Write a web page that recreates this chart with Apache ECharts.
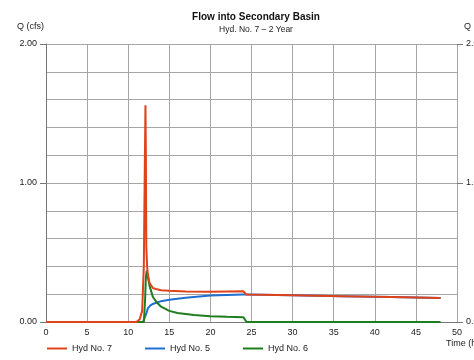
<!DOCTYPE html>
<html>
<head>
<meta charset="utf-8">
<script src="https://cdn.jsdelivr.net/npm/echarts@6/dist/echarts.min.js"></script>
<style>
  html, body { margin: 0; padding: 0; background: #fff; }
  #chart { width: 474px; height: 360px; }
</style>
</head>
<body>
<div id="chart"></div>
<script>
// Hydrograph ordinates: time in hours, flow in cfs
const hyd7Time = [0, 11.0, 11.4, 11.7, 11.9, 12.0, 12.1, 12.15, 12.2, 12.3, 12.4, 12.6, 13.0, 13.5, 14, 15, 17, 20, 22, 24, 24.2, 24.35, 30, 36, 42, 48];
const hyd7Q    = [0, 0.0, 0.02, 0.08, 0.4, 1.0, 1.56, 1.2, 0.55, 0.40, 0.34, 0.28, 0.245, 0.235, 0.228, 0.224, 0.22, 0.218, 0.22, 0.222, 0.222, 0.198, 0.193, 0.186, 0.179, 0.172];

const hyd5Time = [0, 11.8, 12.0, 12.2, 12.4, 12.7, 13.0, 14, 15, 17, 20, 22, 24, 24.2, 24.35, 30, 36, 42, 48];
const hyd5Q    = [0, 0.0, 0.01, 0.06, 0.10, 0.12, 0.13, 0.15, 0.16, 0.175, 0.19, 0.195, 0.198, 0.198, 0.198, 0.193, 0.186, 0.179, 0.172];

const hyd6Time = [0, 11.9, 12.05, 12.15, 12.25, 12.4, 12.6, 13.0, 13.5, 14, 15, 16, 18, 20, 22, 24, 24.2, 24.4, 48];
const hyd6Q    = [0, 0.0, 0.15, 0.32, 0.37, 0.32, 0.26, 0.18, 0.14, 0.11, 0.08, 0.065, 0.05, 0.042, 0.038, 0.035, 0.035, 0.0, 0.0];

const xTicks = { min: 0, max: 50, step: 5 };
const yTicks = { min: 0, max: 2, step: 1, minorSplits: 5 };

const pairs = (t, q) => t.map((v, i) => [v, q[i]]);

const gridGray = '#a6a6a6';
const textColor = '#222';
const fontFamily = '"Liberation Sans", Arial, sans-serif';

function yAxisDef(position) {
  return {
    type: 'value',
    position: position,
    min: yTicks.min, max: yTicks.max, interval: yTicks.step,
    axisLine: { show: position === 'left', lineStyle: { color: '#777', width: 1 } },
    axisTick: { show: true, length: 6, lineStyle: { color: '#777' } },
    axisLabel: {
      show: true, color: textColor, fontSize: 9, fontFamily: fontFamily, margin: 9,
      formatter: v => v.toFixed(2)
    },
    splitLine: { show: position === 'left', lineStyle: { color: gridGray, width: 1 } },
    minorTick: { show: false, splitNumber: yTicks.minorSplits },
    minorSplitLine: { show: position === 'left', lineStyle: { color: gridGray, width: 1 } }
  };
}

const chart = echarts.init(document.getElementById('chart'), null, { renderer: 'canvas' });

const seriesStyle = (color) => ({
  type: 'line',
  showSymbol: false,
  symbol: 'none',
  smooth: false,
  lineStyle: { color: color, width: 2 },
  itemStyle: { color: color },
  animation: false
});

const legendBase = {
  top: 344, padding: 0, itemWidth: 20, itemHeight: 2, icon: 'rect',
  textStyle: { color: textColor, fontSize: 9, fontFamily: fontFamily },
  selectedMode: false
};

chart.setOption({
  animation: false,
  backgroundColor: '#fff',
  title: {
    text: 'Flow into Secondary Basin',
    subtext: 'Hyd. No. 7 \u2013 2 Year',
    left: 251, top: 7, textAlign: 'center',
    itemGap: 3,
    textStyle: { fontSize: 10, fontWeight: 'bold', color: '#111', fontFamily: fontFamily },
    subtextStyle: { fontSize: 8.5, color: textColor, fontFamily: fontFamily }
  },
  grid: { left: 46, right: 17, top: 44, bottom: 38, containLabel: false, outerBoundsMode: 'none' },
  xAxis: {
    type: 'value',
    min: xTicks.min, max: xTicks.max, interval: xTicks.step,
    axisLine: { show: true, lineStyle: { color: '#777' } },
    axisTick: { show: false },
    axisLabel: { color: textColor, fontSize: 9, fontFamily: fontFamily, margin: 6 },
    splitLine: { show: true, lineStyle: { color: gridGray, width: 1 } }
  },
  yAxis: [yAxisDef('left'), yAxisDef('right')],
  legend: [
    Object.assign({ left: 47, data: ['Hyd No. 7'] }, legendBase),
    Object.assign({ left: 145, data: ['Hyd No. 5'] }, legendBase),
    Object.assign({ left: 243, data: ['Hyd No. 6'] }, legendBase)
  ],
  graphic: [
    { type: 'text', left: 17, top: 22, style: { text: 'Q (cfs)', fill: textColor, font: '9px ' + fontFamily } },
    { type: 'text', left: 464, top: 22, style: { text: 'Q (cfs)', fill: textColor, font: '9px ' + fontFamily } },
    { type: 'text', left: 446, top: 339, style: { text: 'Time (hrs)', fill: textColor, font: '9px ' + fontFamily } }
  ],
  series: [
    Object.assign({ name: 'Hyd No. 5', data: pairs(hyd5Time, hyd5Q), z: 2 }, seriesStyle('#1f6fd1')),
    Object.assign({ name: 'Hyd No. 6', data: pairs(hyd6Time, hyd6Q), z: 3 }, seriesStyle('#1e7d1e')),
    Object.assign({ name: 'Hyd No. 7', data: pairs(hyd7Time, hyd7Q), z: 4 }, seriesStyle('#e0431b'))
  ]
});
</script>
</body>
</html>
